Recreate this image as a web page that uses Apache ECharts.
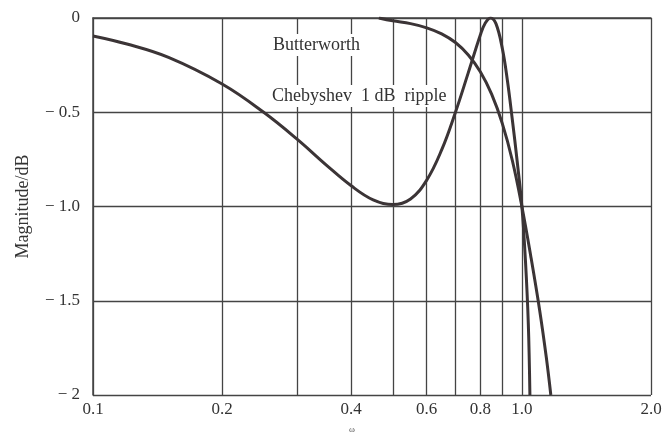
<!DOCTYPE html>
<html>
<head>
<meta charset="utf-8">
<script src="https://cdn.jsdelivr.net/npm/echarts@6/dist/echarts.min.js"></script>
<style>
  html, body { margin: 0; padding: 0; background: #fff; }
  #chart { width: 665px; height: 434px; }
</style>
</head>
<body>
<div id="chart"></div>
<script>
// frequency points (normalised ω) and magnitudes in dB
const chebyW = [0.1, 0.12, 0.15, 0.2, 0.25, 0.3, 0.35, 0.4, 0.45, 0.5, 0.55, 0.6, 0.65, 0.7, 0.75, 0.8, 0.82, 0.845, 0.87, 0.9, 0.925, 0.95, 0.975, 1.0, 1.02, 1.035, 1.044];
const chebyDb = [-0.095, -0.138, -0.209, -0.35, -0.5, -0.645, -0.78, -0.89, -0.965, -0.99, -0.96, -0.86, -0.7, -0.5, -0.29, -0.09, -0.03, 0, -0.03, -0.16, -0.33, -0.54, -0.76, -1.0, -1.3, -1.62, -2.0];

const butterW = [0.464, 0.5, 0.55, 0.6, 0.65, 0.7, 0.75, 0.8, 0.85, 0.9, 0.95, 1.0, 1.05, 1.1, 1.14, 1.168];
const butterDb = [0, -0.015, -0.03, -0.052, -0.084, -0.13, -0.196, -0.285, -0.404, -0.559, -0.756, -1.0, -1.27, -1.55, -1.8, -2.0];

const gridW = [0.1, 0.2, 0.3, 0.4, 0.5, 0.6, 0.7, 0.8, 0.9, 1.0, 2.0];
const labelW = [0.1, 0.2, 0.4, 0.6, 0.8, 1.0, 2.0];
const yTicks = { "0": "0", "-0.5": "\u2212 0.5", "-1": "\u2212 1.0", "-1.5": "\u2212 1.5", "-2": "\u2212 2" };

const ink = "#3b3436";
const serif = "Liberation Serif";

const chart = echarts.init(document.getElementById("chart"));
chart.setOption({
  animation: false,
  grid: { left: 93, right: 14, top: 18, bottom: 39, outerBoundsMode: "none" },
  xAxis: {
    type: "log",
    logBase: 10,
    min: 0.1,
    max: 2.0,
    name: "\u03c9",
    nameLocation: "middle",
    nameGap: 30,
    nameTextStyle: { fontFamily: serif, fontSize: 9, color: "#555", padding: [0, 40, 0, 0] },
    axisLine: { show: true, lineStyle: { color: "#444", width: 1.5 } },
    axisTick: { show: false, customValues: gridW },
    splitLine: { show: true, lineStyle: { color: "#444", width: 1.3 } },
    minorSplitLine: { show: false },
    axisLabel: {
      customValues: labelW,
      margin: 6,
      fontFamily: serif,
      fontSize: 17,
      color: "#333",
      formatter: (v) => Number(v).toFixed(1),
    },
  },
  yAxis: {
    type: "value",
    min: -2,
    max: 0,
    interval: 0.5,
    name: "Magnitude/dB",
    nameLocation: "middle",
    nameGap: 61,
    nameRotate: 90,
    nameTextStyle: { fontFamily: serif, fontSize: 18, color: "#333" },
    axisLine: { show: true, lineStyle: { color: "#444", width: 1.5 } },
    axisTick: { show: false },
    splitLine: { show: true, lineStyle: { color: "#444", width: 1.3 } },
    axisLabel: {
      margin: 13,
      fontFamily: serif,
      fontSize: 17,
      color: "#333",
      formatter: (v) => yTicks[String(v)] ?? String(v),
    },
  },
  series: [
    {
      name: "Chebyshev 1 dB ripple",
      type: "line",
      smooth: 0.4,
      symbol: "none",
      lineStyle: { color: ink, width: 3 },
      data: chebyW.map((w, i) => [w, chebyDb[i]]),
    },
    {
      name: "Butterworth",
      type: "line",
      smooth: 0.4,
      symbol: "none",
      lineStyle: { color: ink, width: 3 },
      data: butterW.map((w, i) => [w, butterDb[i]]),
    },
  ],
  graphic: [
    {
      type: "text",
      z: 100,
      left: 271,
      top: 34,
      style: { text: "Butterworth", font: "18px " + serif, fill: "#333", backgroundColor: "#fff", padding: [2, 2] },
    },
    {
      type: "text",
      z: 100,
      left: 270,
      top: 85,
      style: { text: "Chebyshev  1 dB  ripple", font: "18px " + serif, fill: "#333", backgroundColor: "#fff", padding: [2, 2] },
    },
  ],
});
</script>
</body>
</html>
